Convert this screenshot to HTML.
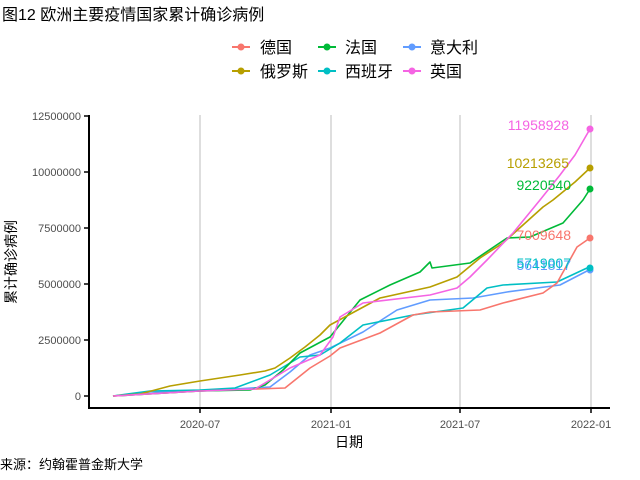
<!DOCTYPE html>
<html><head><meta charset="utf-8"><style>
body{margin:0;background:#fff;}
svg{display:block;font-family:"Liberation Sans","Noto Sans CJK SC",sans-serif;}
</style></head><body>
<svg width="640" height="480" viewBox="0 0 640 480" xmlns="http://www.w3.org/2000/svg">
<rect width="640" height="480" fill="#fff"/>
<text x="2" y="20" font-size="16" fill="#000">图12 欧洲主要疫情国家累计确诊病例</text>
<g font-size="16" fill="#000">
<g stroke-width="2"><line x1="232" y1="47" x2="250" y2="47" stroke="#F8766D"/><circle cx="241" cy="47" r="3.5" fill="#F8766D"/>
<line x1="318" y1="47" x2="336" y2="47" stroke="#00BA38"/><circle cx="327" cy="47" r="3.5" fill="#00BA38"/>
<line x1="403" y1="47" x2="421" y2="47" stroke="#619CFF"/><circle cx="412" cy="47" r="3.5" fill="#619CFF"/>
<line x1="232" y1="71" x2="250" y2="71" stroke="#B79F00"/><circle cx="241" cy="71" r="3.5" fill="#B79F00"/>
<line x1="318" y1="71" x2="336" y2="71" stroke="#00BFC4"/><circle cx="327" cy="71" r="3.5" fill="#00BFC4"/>
<line x1="403" y1="71" x2="421" y2="71" stroke="#F564E3"/><circle cx="412" cy="71" r="3.5" fill="#F564E3"/></g>
<text x="260" y="53">德国</text><text x="345" y="53">法国</text><text x="430" y="53">意大利</text>
<text x="260" y="77">俄罗斯</text><text x="345" y="77">西班牙</text><text x="430" y="77">英国</text>
</g>
<g stroke="#bdbdbd" stroke-width="1">
<line x1="200" y1="115" x2="200" y2="408"/><line x1="331" y1="115" x2="331" y2="408"/>
<line x1="460" y1="115" x2="460" y2="408"/><line x1="591" y1="115" x2="591" y2="408"/>
</g>
<g stroke="#000" stroke-width="2" fill="none">
<polyline points="89,115 89,408 610,408"/>
</g>
<g stroke="#000" stroke-width="1.5">
<line x1="84" y1="116" x2="89" y2="116"/><line x1="84" y1="172" x2="89" y2="172"/><line x1="84" y1="228" x2="89" y2="228"/>
<line x1="84" y1="284" x2="89" y2="284"/><line x1="84" y1="340" x2="89" y2="340"/><line x1="84" y1="396" x2="89" y2="396"/>
<line x1="200" y1="408" x2="200" y2="413"/><line x1="331" y1="408" x2="331" y2="413"/><line x1="460" y1="408" x2="460" y2="413"/><line x1="591" y1="408" x2="591" y2="413"/>
</g>
<g font-size="11" fill="#4d4d4d" text-anchor="end">
<text x="81" y="120">12500000</text><text x="81" y="176">10000000</text><text x="81" y="232">7500000</text>
<text x="81" y="288">5000000</text><text x="81" y="344">2500000</text><text x="81" y="400">0</text>
</g>
<g font-size="11" fill="#4d4d4d" text-anchor="middle">
<text x="200" y="428">2020-07</text><text x="331" y="428">2021-01</text><text x="460" y="428">2021-07</text><text x="591" y="428">2022-01</text>
</g>
<text x="349" y="447" font-size="14" text-anchor="middle">日期</text>
<text transform="translate(16,262) rotate(-90)" font-size="14" text-anchor="middle">累计确诊病例</text>
<text x="0" y="469" font-size="13">来源：约翰霍普金斯大学</text>
<g fill="none" stroke-width="1.6" stroke-linejoin="round">
<polyline stroke="#619CFF" points="113,396 150,392 200,391 270,387 290,372 310,355 330,348 363,332 397,310 430,300 473,298 507,292 560,285 587,271 590,270"/>
<polyline stroke="#00BFC4" points="113,396 150,391 200,390 235,388 270,375 300,357 320,355 340,343 363,325 413,315 463,308 487,288 503,285 557,282 587,268 590,268"/>
<polyline stroke="#F8766D" points="113,396 200,391 285,388 310,368 330,356 340,348 380,333 413,315 430,312 480,310 503,303 543,293 557,283 577,247 590,238"/>
<polyline stroke="#00BA38" points="113,396 200,391 250,390 265,385 283,370 300,353 330,337 360,300 390,285 420,272 430,262 432,268 470,263 507,238 530,237 563,223 583,200 590,189"/>
<polyline stroke="#B79F00" points="113,396 140,394 170,386 200,381 240,375 265,371 275,368 290,358 305,347 320,335 330,325 380,298 430,287 457,277 480,258 503,243 543,207 553,200 575,182 590,168"/>
<polyline stroke="#F564E3" points="113,396 200,391 255,389 290,368 320,355 333,337 340,317 363,303 430,295 457,288 470,277 487,260 513,233 540,200 560,175 575,155 590,129"/>
</g>
<g>
<circle cx="590" cy="129" r="3.5" fill="#F564E3"/><circle cx="590" cy="168" r="3.5" fill="#B79F00"/>
<circle cx="590" cy="189" r="3.5" fill="#00BA38"/><circle cx="590" cy="238" r="3.5" fill="#F8766D"/>
<circle cx="590" cy="270" r="3.5" fill="#619CFF"/><circle cx="590" cy="268" r="3.5" fill="#00BFC4"/>
</g>
<g font-size="14" text-anchor="end">
<text x="569" y="130" fill="#F564E3">11958928</text>
<text x="569" y="168" fill="#B79F00">10213265</text>
<text x="571" y="190" fill="#00BA38">9220540</text>
<text x="571" y="240" fill="#F8766D">7009648</text>
<text x="571" y="270" fill="#619CFF">5641817</text>
<text x="571" y="268" fill="#00BFC4">5719007</text>
</g>
</svg>
</body></html>
